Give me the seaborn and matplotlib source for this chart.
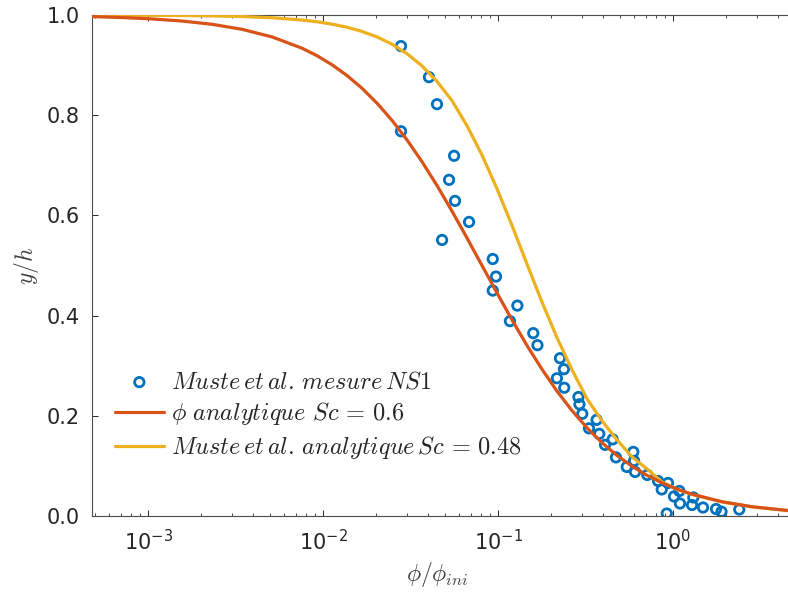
import matplotlib
matplotlib.use("Agg")
import matplotlib.pyplot as plt
import seaborn as sns
from matplotlib.font_manager import FontProperties

# Muste et al. measurements, case NS1
mes_phi = [0.0279, 0.0403, 0.0448, 0.0279, 0.0561, 0.0525, 0.0568, 0.0683, 0.0479, 0.0933,
           0.0974, 0.0933, 0.129, 0.117, 0.159, 0.168, 0.226, 0.238, 0.217, 0.239,
           0.288, 0.292, 0.303, 0.366, 0.331, 0.379, 0.452, 0.409, 0.472, 0.593,
           0.599, 0.544, 0.607, 0.713, 0.821, 0.936, 0.862, 1.087, 1.013, 1.306,
           1.096, 1.284, 1.484, 1.761, 1.893, 2.391, 0.921]
mes_y = [0.938, 0.876, 0.822, 0.768, 0.719, 0.671, 0.629, 0.587, 0.551, 0.513,
         0.478, 0.450, 0.420, 0.389, 0.365, 0.341, 0.315, 0.293, 0.275, 0.256,
         0.2375, 0.223, 0.204, 0.192, 0.175, 0.164, 0.153, 0.142, 0.117, 0.128,
         0.110, 0.098, 0.088, 0.082, 0.070, 0.066, 0.053, 0.050, 0.039, 0.037,
         0.025, 0.022, 0.017, 0.014, 0.0086, 0.013, 0.005]

# phi/phi_ini positions where both analytical curves were read
curve_phi = [4.786e-4, 7.10e-4, 1.054e-3, 1.564e-3, 2.321e-3, 3.444e-3, 5.110e-3, 7.586e-3, 9.24e-3, 1.1256e-2,
             1.3712e-2, 1.670e-2, 2.035e-2, 2.479e-2, 3.020e-2, 3.678e-2, 4.481e-2, 5.459e-2, 6.649e-2, 8.10e-2,
             9.87e-2, 0.1202, 0.1464, 0.1784, 0.2173, 0.2647, 0.3225, 0.3928, 0.4786, 0.5830,
             0.7103, 0.8652, 1.054, 1.284, 1.905, 2.828, 4.541]

# analytical profile, Sc = 0.6
sc06_y = [0.9968, 0.9950, 0.9922, 0.9880, 0.9815, 0.9715, 0.9563, 0.9338, 0.9188, 0.9007,
          0.8792, 0.8538, 0.8240, 0.7897, 0.7507, 0.7072, 0.6596, 0.6085, 0.5549, 0.5000,
          0.4451, 0.3915, 0.3404, 0.2928, 0.2493, 0.2103, 0.1760, 0.1463, 0.1208, 0.0993,
          0.0812, 0.0662, 0.0538, 0.0436, 0.0285, 0.0185, 0.0110]

# Muste et al. analytical profile, Sc = 0.48
sc048_y = [0.9998, 0.9996, 0.9994, 0.9990, 0.9982, 0.9970, 0.9946, 0.9900, 0.9866, 0.9818,
           0.9755, 0.9672, 0.9563, 0.9418, 0.9228, 0.8985, 0.8675, 0.8290, 0.7790, 0.7205,
           0.6530, 0.5800, 0.5030, 0.4270, 0.3560, 0.2920, 0.2340, 0.1900, 0.1520, 0.1180,
           0.0940, 0.0680, 0.0530, 0.0430, 0.0282, 0.0183, 0.0108]

lab_mes = r"$Muste\,et\,al.\,mesure\,NS1$"
lab_06 = r"$\phi\ analytique\ Sc\,=\,0.6$"
lab_048 = r"$Muste\,et\,al.\,analytique\,Sc\,=\,0.48$"

sns.set_style("ticks")
plt.rcParams["font.family"] = ["DejaVu Sans"]
plt.rcParams["axes.unicode_minus"] = False

fig = plt.figure(figsize=(7.88, 5.96), dpi=100)
ax = fig.add_axes([0.1168, 0.1342, 0.8925, 0.8406])
ax.set_xscale("log")

sns.scatterplot(x=mes_phi, y=mes_y, ax=ax, marker="o", s=46, facecolor="none",
                edgecolor="#0072BD", linewidth=2.0, label=lab_mes, zorder=2)
sns.lineplot(x=curve_phi, y=sc048_y, ax=ax, color="#EDB120", lw=2.3, label=lab_048, zorder=3)
sns.lineplot(x=curve_phi, y=sc06_y, ax=ax, color="#D95319", lw=2.3, label=lab_06, zorder=4)

ax.set_xlim(4.786e-4, 5.0)
ax.set_ylim(0, 1)
ax.set_yticks([0, 0.2, 0.4, 0.6, 0.8, 1.0])
ax.set_yticklabels(["0.0", "0.2", "0.4", "0.6", "0.8", "1.0"])

for s in ax.spines.values():
    s.set_visible(True)
    s.set_color("#4d4d4d")
    s.set_linewidth(0.8)
ax.tick_params(which="both", direction="in", top=True, right=True, colors="#262626",
               labelsize=15, pad=9)
ax.tick_params(which="major", length=4, width=0.7)
ax.tick_params(which="minor", length=2.5, width=0.6)

cm = dict(math_fontfamily="cm", size=17)
ax.set_xlabel(r"$\phi/\phi_{ini}$", fontdict=cm, color="#404040")
ax.set_ylabel(r"$y/h$", fontdict=cm, color="#404040")
ax.xaxis.set_label_coords(0.4905, -0.088)
ax.yaxis.set_label_coords(-0.072, 0.5)

h, l = ax.get_legend_handles_labels()
order = [0, 2, 1]
ax.legend([h[i] for i in order], [l[i] for i in order], loc="center left",
          bbox_to_anchor=(0.0327, 0.201), frameon=False, borderpad=0, borderaxespad=0,
          handlelength=2.0, handletextpad=0.3, labelspacing=0.28,
          prop=FontProperties(math_fontfamily="cm", size=17.5))

fig.savefig("out.png", dpi=100)
